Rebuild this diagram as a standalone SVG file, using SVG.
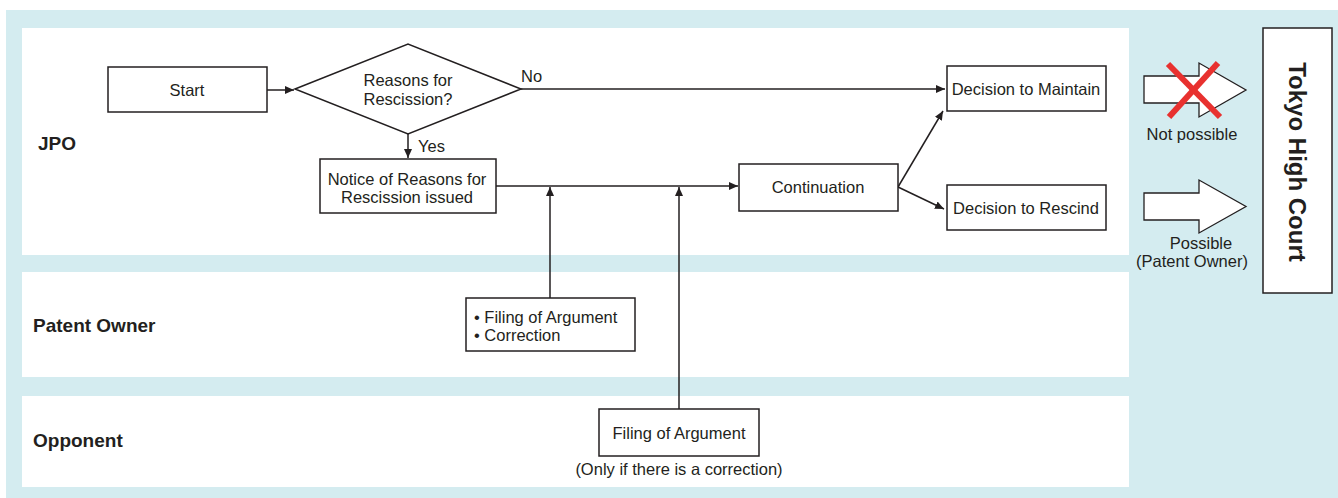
<svg xmlns="http://www.w3.org/2000/svg" width="1338" height="498" viewBox="0 0 1338 498">
<style>
.lane{fill:#ffffff}
.box{fill:#ffffff;stroke:#231f20;stroke-width:1.5}
.t{font-family:"Liberation Sans",Arial,sans-serif;font-size:16.5px;fill:#231f20;text-anchor:middle}
.tl{font-family:"Liberation Sans",Arial,sans-serif;font-size:16.5px;fill:#231f20}
.lab{font-family:"Liberation Sans",Arial,sans-serif;font-size:19px;font-weight:bold;fill:#231f20}
.c{fill:none;stroke:#231f20;stroke-width:1.5}
.big{fill:#ffffff;stroke:#231f20;stroke-width:1.3}
</style>
<defs>
<marker id="ah" markerWidth="10" markerHeight="10" refX="9" refY="5" orient="auto" markerUnits="userSpaceOnUse">
<path d="M0,1 L9,5 L0,9 Z" fill="#231f20"/>
</marker>
</defs>
<rect x="6" y="10" width="1332" height="488" fill="#d4ecf0"/>
<g id="lanes">
<rect class="lane" x="22" y="28" width="1107" height="227"/>
<rect class="lane" x="22" y="272" width="1107" height="105"/>
<rect class="lane" x="22" y="396" width="1107" height="91"/>
<text class="lab" x="38" y="150">JPO</text>
<text class="lab" x="33" y="332">Patent Owner</text>
<text class="lab" x="33" y="447">Opponent</text>
</g>
<g id="connectors">
<line class="c" x1="267" y1="90" x2="294" y2="90" marker-end="url(#ah)"/>
<line class="c" x1="521" y1="89" x2="945" y2="89" marker-end="url(#ah)"/>
<line class="c" x1="408" y1="134" x2="408" y2="158" marker-end="url(#ah)"/>
<line class="c" x1="496" y1="186" x2="738" y2="186" marker-end="url(#ah)"/>
<line class="c" x1="550" y1="298" x2="550" y2="187" marker-end="url(#ah)"/>
<line class="c" x1="679" y1="409" x2="679" y2="187" marker-end="url(#ah)"/>
<line class="c" x1="898" y1="187" x2="943" y2="111" marker-end="url(#ah)"/>
<line class="c" x1="898" y1="187" x2="944" y2="209" marker-end="url(#ah)"/>
<text class="tl" x="521" y="82">No</text>
<text class="tl" x="418" y="152">Yes</text>
</g>
<g id="start">
<rect class="box" x="108" y="67" width="159" height="45"/>
<text class="t" x="187" y="96">Start</text>
</g>
<g id="decision">
<polygon class="box" points="295,89 408,44 521,89 408,134"/>
<text class="t" x="408" y="86">Reasons for</text>
<text class="t" x="408" y="105">Rescission?</text>
</g>
<g id="notice">
<rect class="box" x="320" y="159" width="176" height="54"/>
<text class="t" x="407" y="185">Notice of Reasons for</text>
<text class="t" x="407" y="203">Rescission issued</text>
</g>
<g id="continuation">
<rect class="box" x="739" y="164" width="159" height="47"/>
<text class="t" x="818" y="193">Continuation</text>
</g>
<g id="maintain">
<rect class="box" x="947" y="66" width="159" height="45"/>
<text class="t" x="1026" y="95">Decision to Maintain</text>
</g>
<g id="rescind">
<rect class="box" x="947" y="185" width="159" height="45"/>
<text class="t" x="1026" y="214">Decision to Rescind</text>
</g>
<g id="owner-filing">
<rect class="box" x="466" y="298" width="169" height="53"/>
<text class="tl" x="474" y="323">• Filing of Argument</text>
<text class="tl" x="474" y="341">• Correction</text>
</g>
<g id="opponent-filing">
<rect class="box" x="599" y="409" width="160" height="47"/>
<text class="t" x="679" y="439">Filing of Argument</text>
<text class="t" x="679" y="475">(Only if there is a correction)</text>
</g>
<g id="not-possible">
<polygon class="big" points="1144,76 1199,76 1199,63 1246,90 1199,117 1199,103 1144,103"/>
<line x1="1168" y1="64" x2="1220" y2="117" stroke="#e8312f" stroke-width="6"/>
<line x1="1218" y1="63" x2="1169" y2="117" stroke="#e8312f" stroke-width="6"/>
<text class="t" x="1192" y="140">Not possible</text>
</g>
<g id="possible">
<polygon class="big" points="1144,193 1199,193 1199,180 1246,206.5 1199,233 1199,220 1144,220"/>
<text class="t" x="1201" y="249">Possible</text>
<text class="t" x="1192" y="267">(Patent Owner)</text>
</g>
<g id="tokyo-high-court">
<rect class="box" x="1263" y="28" width="69" height="265"/>
<text transform="translate(1289,162) rotate(90)" text-anchor="middle" font-family="'Liberation Sans',Arial,sans-serif" font-size="24" font-weight="bold" fill="#231f20">Tokyo High Court</text>
</g>
</svg>
